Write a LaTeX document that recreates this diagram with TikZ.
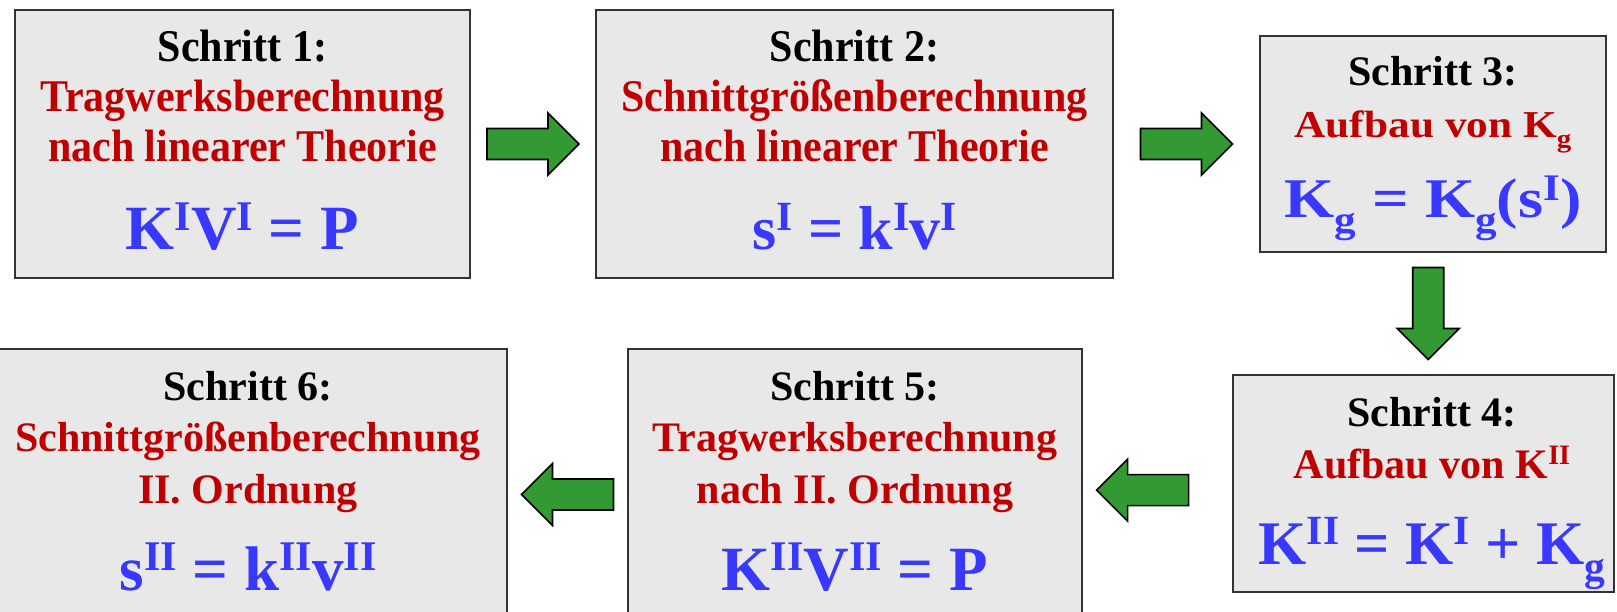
\documentclass[tikz,border=0pt]{standalone}
\usepackage{fontspec}
\setmainfont{Liberation Serif}
\usepackage{graphicx}
\usetikzlibrary{calc}

\definecolor{boxgray}{HTML}{E8E8E8}
\definecolor{stepred}{HTML}{C00000}
\definecolor{formblue}{HTML}{3838FF}
\definecolor{arrowgreen}{HTML}{339933}

% hoch- und tiefgestellte Indizes
\newcommand{\hoch}[1]{\raisebox{0.31em}{\scalebox{0.67}{#1}}}
\newcommand{\tief}[1]{\raisebox{-0.26em}{\scalebox{0.67}{#1}}}
% etwas hoeher gezogene Schrift (Schritt 1 und 2)
\newcommand{\hochzieh}[1]{\scalebox{1}[1.08]{#1}}

\tikzset{
  stepbox/.style={draw=black!80, line width=2pt, fill=boxgray, inner sep=0pt},
  titletext/.style={anchor=base, inner sep=0pt, font=\fontsize{42}{50}\selectfont\bfseries},
  redtext/.style={anchor=base, inner sep=0pt, text=stepred, font=\fontsize{42}{50}\selectfont\bfseries},
  formtext/.style={anchor=base, inner sep=0pt, text=formblue, font=\fontsize{63}{70}\selectfont\bfseries},
  greenarrow/.pic={
    \draw[fill=arrowgreen, line width=1.6pt, line join=miter]
      (-46,-15.5) -- (15,-15.5) -- (15,-31) -- (46,0) -- (15,31) -- (15,15.5) -- (-46,15.5) -- cycle;
  }
}

\begin{document}
\begin{tikzpicture}[x=1pt, y=-1pt]
    \useasboundingbox (0,0) rectangle (1617,612);

    % Kaesten
    \node[stepbox, minimum width=455pt, minimum height=268pt] (s1) at (242.5,144) {};
    \node[stepbox, minimum width=517pt, minimum height=268pt] (s2) at (854.5,144) {};
    \node[stepbox, minimum width=346pt, minimum height=216pt] (s3) at (1433,144) {};
    \node[stepbox, minimum width=381pt, minimum height=217pt] (s4) at (1423.5,483.5) {};
    \node[stepbox, minimum width=454pt, minimum height=291pt] (s5) at (855,494.5) {};
    \node[stepbox, minimum width=512pt, minimum height=291pt] (s6) at (251,494.5) {};

    % Schritt 1
    \node[titletext] (t1) at (242.5,62) {\hochzieh{Schritt 1:}};
    \node[redtext] (r1a) at (242.5,112) {\hochzieh{Tragwerksberechnung}};
    \node[redtext] (r1b) at (242.5,162) {\hochzieh{nach linearer Theorie}};
    \node[formtext] (f1) at (242.5,250) {K\hoch{I}V\hoch{I} = P};

    % Schritt 2
    \node[titletext] (t2) at (854.5,62) {\hochzieh{Schritt 2:}};
    \node[redtext] (r2a) at (854.5,112) {\hochzieh{Schnittgrößenberechnung}};
    \node[redtext] (r2b) at (854.5,162) {\hochzieh{nach linearer Theorie}};
    \node[formtext, font=\fontsize{62}{70}\selectfont\bfseries] (f2) at (854.5,250) {s\hoch{I} = k\hoch{I}v\hoch{I}};

    % Schritt 3
    \node[titletext] (t3) at (1433,86) {Schritt 3:};
    \node[redtext, font=\fontsize{38}{45}\selectfont\bfseries] (r3) at (1433,138)
        {\scalebox{1.14}[1]{Aufbau von K\tief{g}}};
    \node[formtext, font=\fontsize{56}{64}\selectfont\bfseries] (f3) at (1433,218)
        {\scalebox{1.15}[1]{K\tief{g} = K\tief{g}(s\hoch{I})}};

    % Schritt 4
    \node[titletext] (t4) at (1432,426) {Schritt 4:};
    \node[redtext] (r4) at (1432,478) {Aufbau von K\hoch{II}};
    \node[formtext, font=\fontsize{62}{70}\selectfont\bfseries] (f4) at (1432,564) {K\hoch{II} = K\hoch{I} + K\tief{g}};

    % Schritt 5
    \node[titletext] (t5) at (855,400) {Schritt 5:};
    \node[redtext] (r5a) at (855,451) {Tragwerksberechnung};
    \node[redtext] (r5b) at (855,503) {nach II. Ordnung};
    \node[formtext] (f5) at (855,590) {K\hoch{II}V\hoch{II} = P};

    % Schritt 6
    \node[titletext] (t6) at (248,400) {Schritt 6:};
    \node[redtext] (r6a) at (248,451) {Schnittgrößenberechnung};
    \node[redtext] (r6b) at (248,503) {II. Ordnung};
    \node[formtext] (f6) at (248,590) {s\hoch{II} = k\hoch{II}v\hoch{II}};

    % Pfeile zwischen den Schritten
    \coordinate (a12) at ($(s1.east)!0.5!(s2.west)$);
    \coordinate (a23) at ($(s2.east)!0.5!(s3.west)$);
    \coordinate (a34) at ($(s3.south)!0.5!(s4.north)$);
    \coordinate (a45) at ($(s5.east)!0.4!(s4.west)$);
    \coordinate (a56) at ($(s6.east)!0.5!(s5.west)$);
    \pic at (a12) {greenarrow};
    \pic at (a23) {greenarrow};
    \pic[rotate=-90] at (a34) {greenarrow};
    \pic[rotate=180] at (a45) {greenarrow};
    \pic[rotate=180] at (a56) {greenarrow};
\end{tikzpicture}
\end{document}
